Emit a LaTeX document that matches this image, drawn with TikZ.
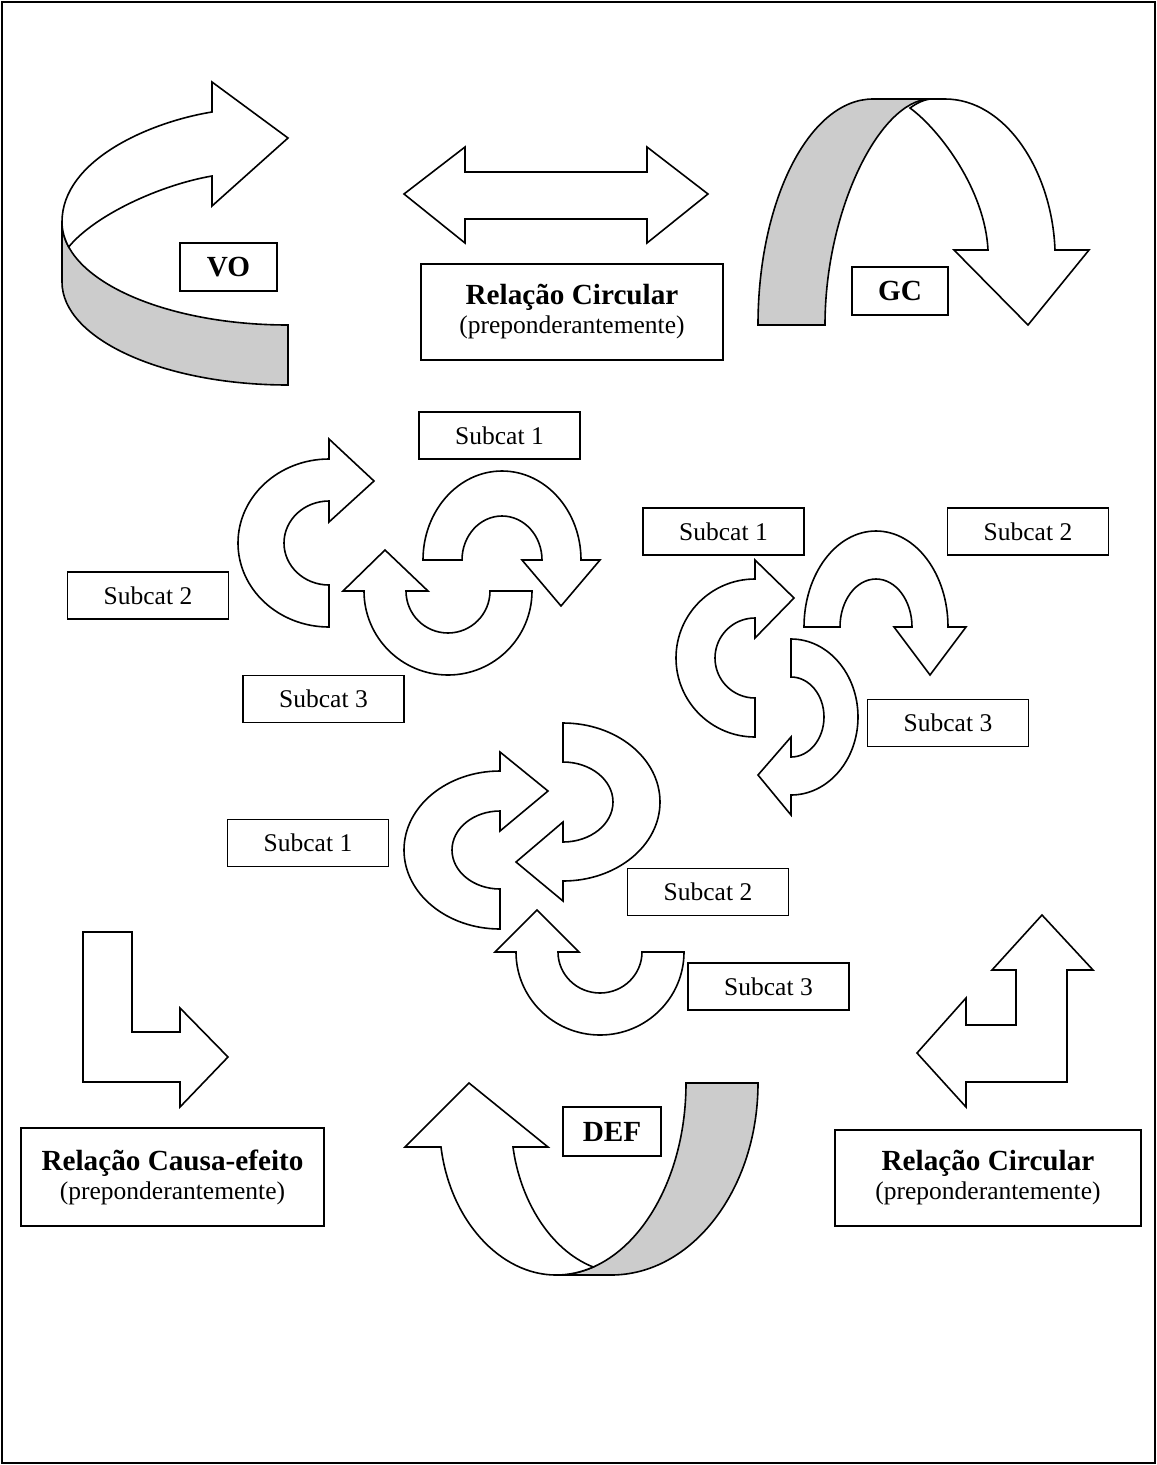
\documentclass[tikz,border=0pt]{standalone}
\usepackage{fontspec}
\setmainfont{Liberation Serif}
\definecolor{bandgrey}{RGB}{204,204,204}
\newcommand\lblfont{\fontsize{25.5}{29}\selectfont}
\newcommand\boldlblfont{\fontsize{29.2}{29}\selectfont\bfseries}

\begin{document}
\begin{tikzpicture}[x=1pt,y=1pt,yscale=-1,
  outline/.style={draw=black,line width=1.6pt,fill=white},
  band/.style={outline,fill=bandgrey},
  tagbox/.style={draw=black,line width=1.6pt,fill=white,inner sep=0pt,font=\boldlblfont},
  subbox/.style={draw=black,line width=1.6pt,fill=white,inner sep=0pt,font=\lblfont,
                 minimum width=161pt,minimum height=47pt},
  relbox/.style={draw=black,line width=1.6pt,fill=white,inner sep=0pt,font=\lblfont,align=center}]

\useasboundingbox (0,0) rectangle (1157,1465);
\draw[line width=1.6pt] (2,2) rectangle (1155,1463);

% ---- VO: ribbon arrow turning right ----
\draw[band] (62,222) -- (62,282)
  arc[start angle=180,end angle=90,x radius=226,y radius=103] -- (288,325)
  arc[start angle=90,end angle=180,x radius=226,y radius=103] -- cycle;
\draw[outline] (212,112) -- (212,82) -- (288,138) -- (212,206) -- (212,176)
  .. controls (160,185) and (95,215) .. (68.7,246.9)
  arc[start angle=166,end angle=180,x radius=226,y radius=103]
  .. controls (62,160) and (150,122) .. (212,112) -- cycle;
\node[tagbox,minimum width=97pt,minimum height=48pt] (vo) at (228.5,267) {VO};

% ---- double arrow and its caption ----
\draw[outline] (404,194) -- (465,147) -- (465,172) -- (647,172) -- (647,147) -- (708,194)
  -- (647,243) -- (647,219) -- (465,219) -- (465,243) -- cycle;
\node[relbox,minimum width=302pt,minimum height=96pt] (rctop) at (572,312)
  {{\boldlblfont Relação Circular}\\(preponderantemente)};

% ---- GC: ribbon arch turning down ----
\draw[band] (758,325) arc[start angle=180,end angle=270,x radius=115,y radius=226]
  -- (930,99) .. controls (880,100) and (825,210) .. (825,325) -- cycle;
\draw[outline] (930,99) -- (945,99) .. controls (1005,99) and (1052,170) .. (1055,250)
  -- (1089,250) -- (1028,325) -- (954,250) -- (988,250)
  .. controls (985,190) and (940,130) .. (910,108)
  .. controls (917,103) and (923,100) .. (930,99) -- cycle;
\node[tagbox,minimum width=96pt,minimum height=48pt] (gc) at (900,291) {GC};

% ---- first cycle of three arrows ----
\draw[outline] (329,459) -- (329,439) -- (374,481) -- (329,522) -- (329,501)
  arc[start angle=270,end angle=90,x radius=45,y radius=42] -- (329,627)
  arc[start angle=90,end angle=270,x radius=91,y radius=84] -- cycle;
\draw[outline] (423,560) arc[start angle=180,end angle=360,x radius=79,y radius=89]
  -- (600,560) -- (561,606) -- (522,560) -- (542,560)
  arc[start angle=0,end angle=-180,x radius=40,y radius=44] -- cycle;
\draw[outline] (364,591) -- (343,591) -- (385,550) -- (428,591) -- (406,591)
  arc[start angle=180,end angle=0,radius=42] -- (532,591)
  arc[start angle=0,end angle=180,radius=84] -- cycle;
\node[subbox] (ca1) at (499.5,435.5) {Subcat 1};
\node[subbox] (ca2) at (148,595.5) {Subcat 2};
\node[subbox] (ca3) at (323.5,699) {Subcat 3};

% ---- second cycle of three arrows ----
\draw[outline] (755,579) -- (755,560) -- (794,598) -- (755,638) -- (755,618)
  arc[start angle=270,end angle=90,radius=40] -- (755,737)
  arc[start angle=90,end angle=270,radius=79] -- cycle;
\draw[outline] (804,627) arc[start angle=180,end angle=360,x radius=72,y radius=96]
  -- (966,627) -- (930,675) -- (894,627) -- (912,627)
  arc[start angle=0,end angle=-180,x radius=36,y radius=48] -- cycle;
\draw[outline] (791,639) arc[start angle=-90,end angle=90,x radius=67,y radius=78]
  -- (791,815) -- (758,775) -- (791,737) -- (791,757)
  arc[start angle=90,end angle=-90,x radius=33,y radius=40] -- cycle;
\node[subbox] (cb1) at (723.5,531.5) {Subcat 1};
\node[subbox] (cb2) at (1028,531.5) {Subcat 2};
\node[subbox] (cb3) at (948,723) {Subcat 3};

% ---- third cycle of three arrows ----
\draw[outline] (500,771) -- (500,752) -- (548,791) -- (500,831) -- (500,811)
  arc[start angle=270,end angle=90,x radius=48,y radius=39] -- (500,929)
  arc[start angle=90,end angle=270,x radius=96,y radius=79] -- cycle;
\draw[outline] (563,723) arc[start angle=-90,end angle=90,x radius=97,y radius=79]
  -- (563,901) -- (516,862) -- (563,822) -- (563,842)
  arc[start angle=90,end angle=-90,x radius=50,y radius=40] -- cycle;
\draw[outline] (516,952) -- (495,952) -- (537,910) -- (579,952) -- (558,952)
  arc[start angle=180,end angle=0,x radius=42,y radius=41] -- (684,952)
  arc[start angle=0,end angle=180,x radius=84,y radius=83] -- cycle;
\node[subbox] (cc1) at (308,843) {Subcat 1};
\node[subbox] (cc2) at (708,892) {Subcat 2};
\node[subbox] (cc3) at (768.5,986.5) {Subcat 3};

% ---- cause-effect bent arrow ----
\draw[outline] (83,932) -- (132,932) -- (132,1032) -- (180,1032) -- (180,1008) -- (228,1057)
  -- (180,1107) -- (180,1082) -- (83,1082) -- cycle;
\node[relbox,minimum width=303pt,minimum height=98pt] (rcause) at (172.5,1177)
  {{\boldlblfont Relação Causa-efeito}\\(preponderantemente)};

% ---- DEF: ribbon arrow turning up ----
\draw[band] (686,1083) -- (758,1083)
  arc[start angle=0,end angle=90,x radius=147,y radius=192] -- (556,1275)
  arc[start angle=90,end angle=0,x radius=130,y radius=192] -- cycle;
\draw[outline] (441,1147) -- (405,1147) -- (469,1083) -- (548,1147) -- (513,1147)
  .. controls (520,1200) and (550,1250) .. (593.2,1267)
  arc[start angle=73.4,end angle=90,x radius=130,y radius=192]
  .. controls (500,1275) and (450,1220) .. (441,1147) -- cycle;
\node[tagbox,minimum width=98pt,minimum height=49pt] (def) at (612,1131.5) {DEF};

% ---- circular bent double arrow ----
\draw[outline] (1042,915) -- (1093,970) -- (1067,970) -- (1067,1082) -- (966,1082)
  -- (966,1107) -- (917,1053) -- (966,998) -- (966,1025) -- (1016,1025) -- (1016,970)
  -- (992,970) -- cycle;
\node[relbox,minimum width=306pt,minimum height=96pt] (rcbot) at (988,1178)
  {{\boldlblfont Relação Circular}\\(preponderantemente)};
\end{tikzpicture}
\end{document}
